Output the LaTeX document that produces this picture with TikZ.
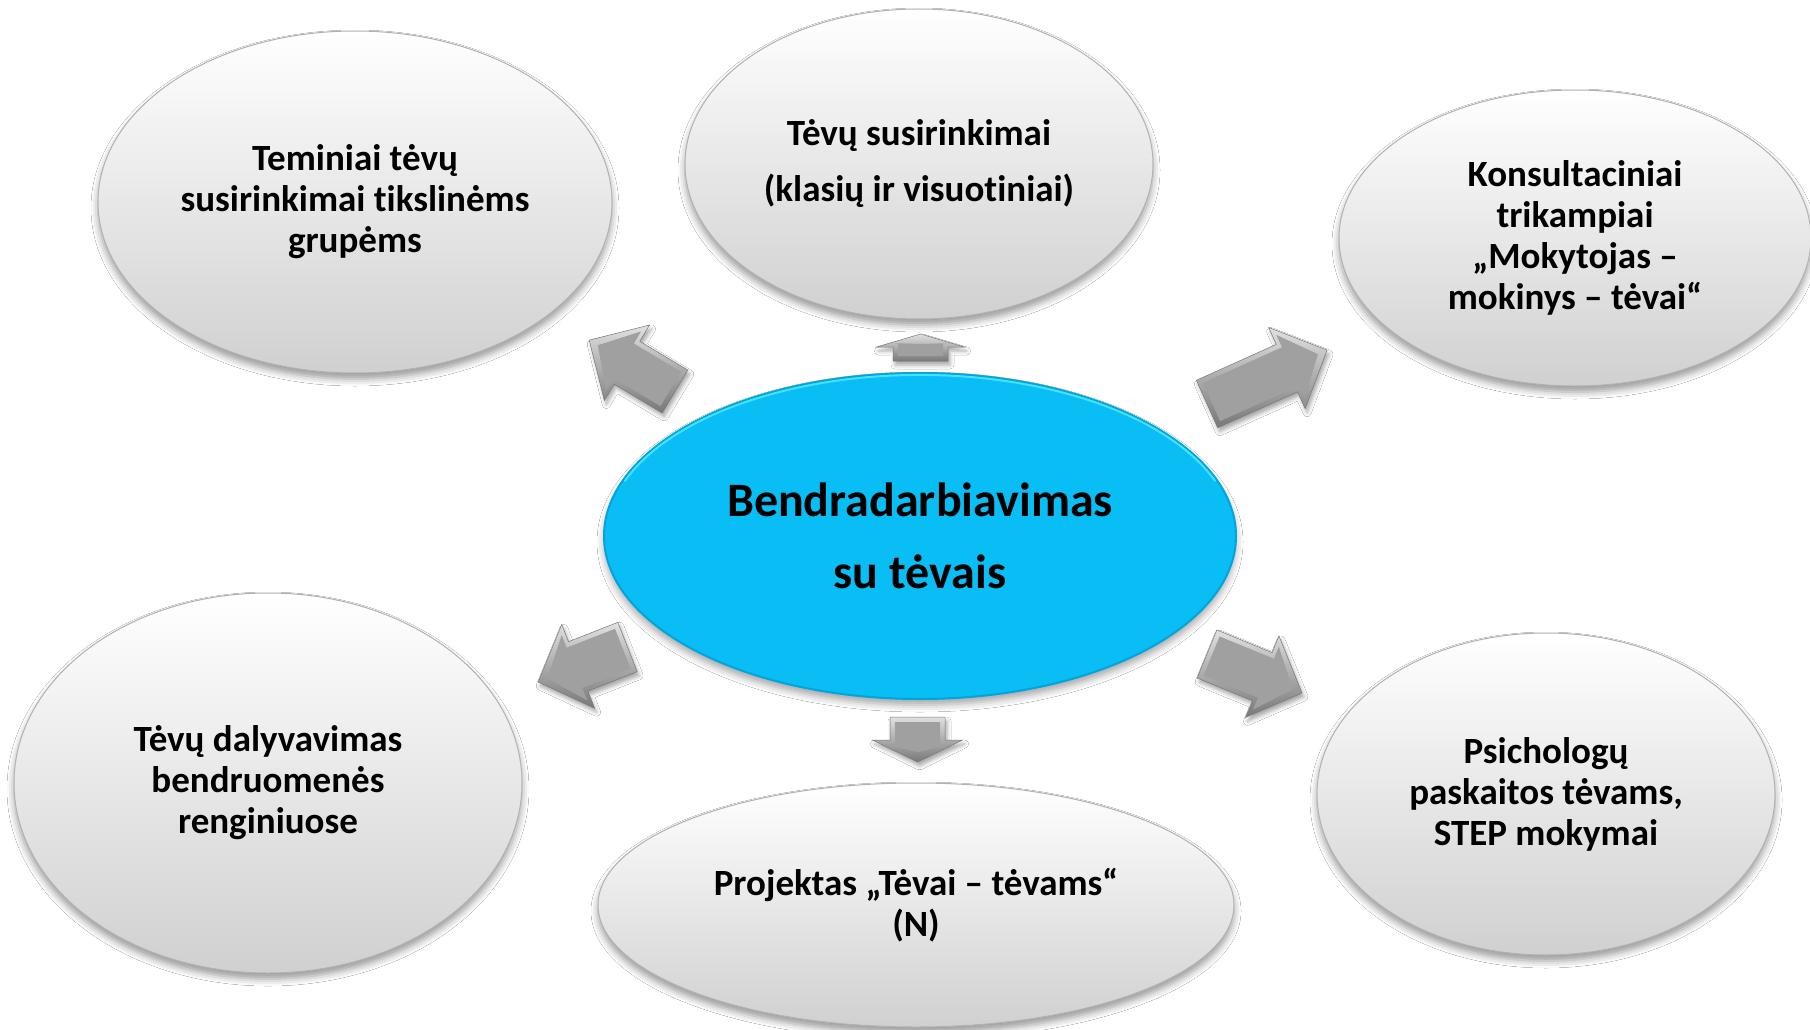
\documentclass[tikz,border=0pt]{standalone}
\usepackage{fontspec}
\setmainfont[RawFeature=-liga]{Carlito}
\usetikzlibrary{shapes.geometric,shadows.blur}
\definecolor{cyanfill}{RGB}{8,190,245}
\definecolor{cyanedge}{RGB}{0,165,220}
\definecolor{cyanrim}{RGB}{70,225,255}
\definecolor{ellgray}{RGB}{208,208,208}
\definecolor{ellline}{RGB}{178,178,178}
\definecolor{arrdark}{RGB}{120,120,120}
\definecolor{arrmid}{RGB}{160,160,160}
\definecolor{arrlight}{RGB}{225,225,225}
\tikzset{
  bubble/.style={ellipse, inner sep=0pt, draw=ellline, line width=1pt,
    top color=white, bottom color=ellgray, align=center,
    font=\bfseries\fontsize{37}{41}\selectfont,
    blur shadow={shadow xshift=0pt, shadow yshift=-6pt, shadow blur radius=7pt, shadow opacity=40}},
  hub/.style={ellipse, inner sep=0pt, draw=cyanedge, line width=2pt,
    fill=cyanfill, align=center,
    font=\bfseries\fontsize{48}{72}\selectfont,
    blur shadow={shadow xshift=0pt, shadow yshift=-6pt, shadow blur radius=7pt, shadow opacity=35}},
  blockarrow/.style={draw=arrdark, line width=0.5pt, line join=miter,
    top color=arrlight, bottom color=arrdark,
    blur shadow={shadow xshift=2pt, shadow yshift=-4pt, shadow blur radius=4pt, shadow opacity=35}},
  arrowface/.style={fill=arrmid}
}
% #1,#2 tail centre, #3 angle, #4 length, #5 shaft width, #6 head width, #7 head length
\newcommand\blockarr[7]{%
  \begin{scope}[shift={(#1,#2)}, rotate=#3]
    \path[blockarrow] (0,{-#5/2}) -- ({#4-#7},{-#5/2}) -- ({#4-#7},{-#6/2}) -- (#4,0)
      -- ({#4-#7},{#6/2}) -- ({#4-#7},{#5/2}) -- (0,{#5/2}) -- cycle;
    \path[arrowface] (5,{-#5/2+5}) -- ({#4-#7+4},{-#5/2+5}) -- ({#4-#7+4},{-#6/2+10}) -- ({#4-10},0)
      -- ({#4-#7+4},{#6/2-10}) -- ({#4-#7+4},{#5/2-5}) -- (5,{#5/2-5}) -- cycle;
  \end{scope}}
\begin{document}
\begin{tikzpicture}[x=1pt,y=-1pt]
  \path[use as bounding box, fill=white] (0,0) rectangle (1810,1030);
  \clip (0,0) rectangle (1810,1030);

  \node[bubble, minimum width=514, minimum height=342] (tl) at (355,202)
    {Teminiai tėvų\\susirinkimai tikslinėms\\grupėms};
  \node[bubble, minimum width=468, minimum height=310,
        font=\bfseries\fontsize{37}{56}\selectfont] (tc) at (919,164)
    {Tėvų susirinkimai\\(klasių ir visuotiniai)};
  \node[bubble, minimum width=472, minimum height=296] (tr) at (1575,238)
    {Konsultaciniai\\trikampiai\\„Mokytojas –\\mokinys – tėvai“};
  \node[bubble, minimum width=508, minimum height=380] (bl) at (268,783)
    {Tėvų dalyvavimas\\bendruomenės\\renginiuose};
  \node[bubble, minimum width=636, minimum height=244] (bc) at (916,905)
    {Projektas „Tėvai – tėvams“\\(N)};
  \node[bubble, minimum width=458, minimum height=322] (br) at (1546,794)
    {Psichologų\\paskaitos tėvams,\\STEP mokymai};

  \node[hub, minimum width=632, minimum height=326] (hub) at (920,536)
    {Bendradarbiavimas\\su tėvais};
  \draw[cyanrim, line width=2pt, line cap=round]
    ([shift={(-295.1,-55.1)}]hub.center) arc[start angle=-160, end angle=-20, x radius=314, y radius=161];

  \blockarr{675}{391.5}{149.1}{100}{50}{88}{44}
  \blockarr{920.5}{361}{90}{27}{55}{88}{13}
  \blockarr{1207}{404}{24.2}{131.6}{52}{89}{44}
  \blockarr{627.5}{647}{201.4}{96}{53}{90}{43}
  \blockarr{917.5}{717}{-90}{45}{55}{90}{22}
  \blockarr{1207}{654}{-22.3}{102.7}{52}{88}{43}
\end{tikzpicture}
\end{document}
